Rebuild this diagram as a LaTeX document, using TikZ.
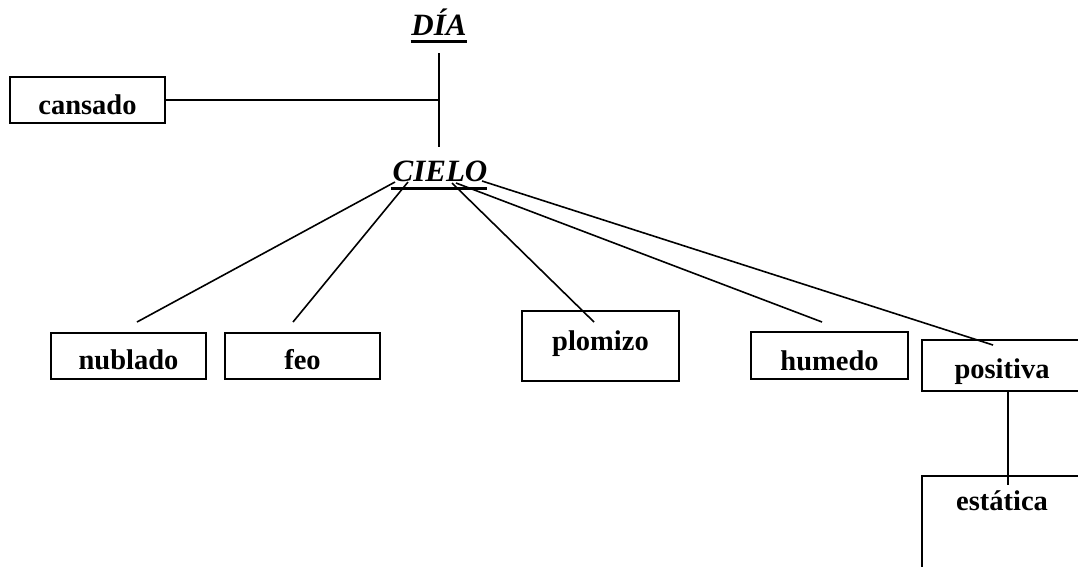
\documentclass[tikz,border=0pt]{standalone}
\usepackage{fontspec}
\setmainfont{Liberation Serif}
\begin{document}
\begin{tikzpicture}[x=1pt,y=-1pt,
  line width=1.6pt,
  box/.style={draw, rectangle, line width=1.9pt, inner sep=0pt, font=\fontsize{28.5}{30}\selectfont\bfseries},
  ttl/.style={inner sep=0pt, font=\fontsize{31}{33}\selectfont\bfseries\itshape},
  ul/.style={line width=3pt},
  conn/.style={line width=1.6pt}]
\useasboundingbox (0,0) rectangle (1078,566);
\clip (0,0) rectangle (1078,566);
% titles
\node[ttl, anchor=base] (dia) at (439,35) {DÍA};
\draw[ul] ([yshift=-6.5pt]dia.base west) -- ([yshift=-6.5pt]dia.base east);
\node[ttl, anchor=base] (cielo) at (440,181) {CIELO};
\draw[ul] ([yshift=-7pt,xshift=-1pt]cielo.base west) -- ([yshift=-7pt,xshift=-1pt]cielo.base east);
% boxes
\node[box, minimum width=155pt, minimum height=46pt, text height=37pt, text depth=9pt] (cansado) at (87.5,100) {cansado};
\node[box, minimum width=155pt, minimum height=46pt, text height=36pt, text depth=10pt] (nublado) at (128.5,356) {nublado};
\node[box, minimum width=155pt, minimum height=46pt, text height=36pt, text depth=10pt] (feo) at (302.5,356) {feo};
\node[box, minimum width=157pt, minimum height=70pt, text height=39pt, text depth=31pt] (plomizo) at (600.5,346) {plomizo};
\node[box, minimum width=157pt, minimum height=47pt, text height=38pt, text depth=9pt] (humedo) at (829.5,355.5) {humedo};
\node[box, minimum width=160pt, minimum height=51pt, text height=38pt, text depth=13pt] (positiva) at (1002,365.5) {positiva};
\node[box, minimum width=160pt, minimum height=124pt, text height=34pt, text depth=90pt] (estatica) at (1002,538) {estática};
% connector points
\coordinate (vtop) at (439,53);
\coordinate (vbot) at (439,147);
\coordinate (junc) at (439,100);
\coordinate (c1) at (395,182);
\coordinate (c2) at (408,182);
\coordinate (c3) at (452,183);
\coordinate (c4) at (456,183);
\coordinate (c5) at (482,181);
\coordinate (e1) at (137,322);
\coordinate (e2) at (293,322);
\coordinate (e3) at (594,322);
\coordinate (e4) at (822,322);
\coordinate (e5) at (993,345);
\coordinate (ptop) at (1008,391);
\coordinate (pbot) at (1008,485);
% connectors
\draw[conn] (vtop) -- (vbot);
\draw[conn] (cansado.east) -- (junc);
\draw[conn] (c1) -- (e1);
\draw[conn] (c2) -- (e2);
\draw[conn] (c3) -- (e3);
\draw[conn] (c4) -- (e4);
\draw[conn] (c5) -- (e5);
\draw[conn] (ptop) -- (pbot);
\end{tikzpicture}
\end{document}
